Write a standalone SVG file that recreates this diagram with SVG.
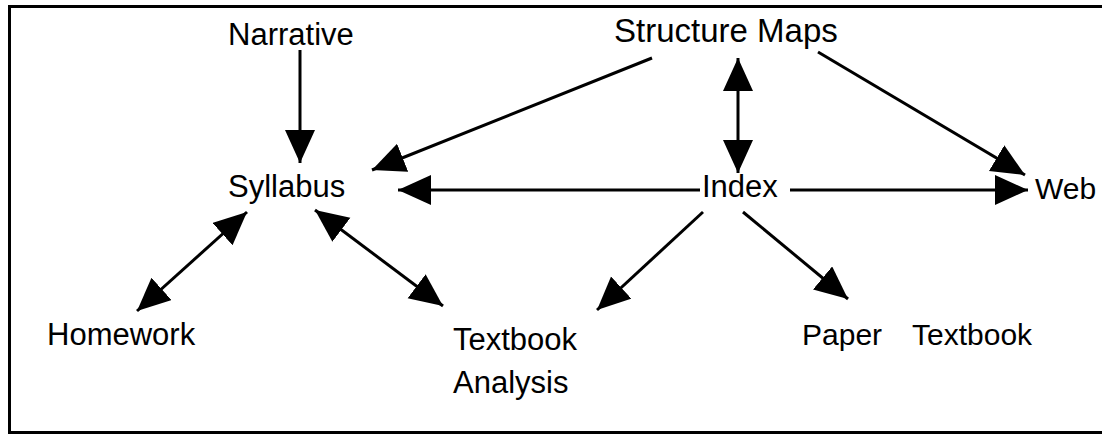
<svg xmlns="http://www.w3.org/2000/svg" width="1102" height="436" viewBox="0 0 1102 436">
<style>
text{font-family:"Liberation Sans",Arial,sans-serif;font-size:31px;fill:#000}
.c{stroke:#000;stroke-width:3;fill:none;marker-end:url(#ah)}
.b{marker-start:url(#ah)}
</style>
<defs>
<marker id="ah" markerUnits="userSpaceOnUse" markerWidth="36" markerHeight="32" refX="33" refY="15" orient="auto-start-reverse" viewBox="0 0 36 32">
<path d="M0,0 L33,15 L0,30 z" fill="#000"/>
</marker>
</defs>
<rect width="1102" height="436" fill="#fff"/>
<g id="frame" stroke="#000" stroke-width="3" fill="none">
<path d="M1102,6.5 H9.5 V432.5 H1102"/>
</g>
<g id="connectors">
<line class="c" x1="300" y1="50" x2="300" y2="163"/>
<line class="c" x1="652" y1="58" x2="372" y2="170"/>
<line class="c b" x1="738" y1="58" x2="738" y2="173"/>
<line class="c" x1="818" y1="52" x2="1025" y2="175"/>
<line class="c" x1="700" y1="190" x2="398" y2="190"/>
<line class="c" x1="790" y1="190" x2="1028" y2="190"/>
<line class="c b" x1="247" y1="212" x2="137" y2="311"/>
<line class="c b" x1="315" y1="210" x2="443" y2="306"/>
<line class="c" x1="703" y1="212" x2="597" y2="310"/>
<line class="c" x1="743" y1="212" x2="848" y2="299"/>
</g>
<g id="narrative"><text x="228" y="45">Narrative</text></g>
<g id="structure-maps"><text x="614" y="42" style="font-size:33px">Structure Maps</text></g>
<g id="syllabus"><text x="228" y="197">Syllabus</text></g>
<g id="index"><text x="702" y="197">Index</text></g>
<g id="web"><text x="1035" y="199" style="font-size:30px">Web</text></g>
<g id="homework"><text x="47" y="345">Homework</text></g>
<g id="textbook-analysis"><text x="453" y="350">Textbook</text><text x="453" y="393">Analysis</text></g>
<g id="paper-textbook"><text x="802" y="345" style="font-size:30px">Paper</text><text x="912" y="345" style="font-size:30px">Textbook</text></g>
</svg>
